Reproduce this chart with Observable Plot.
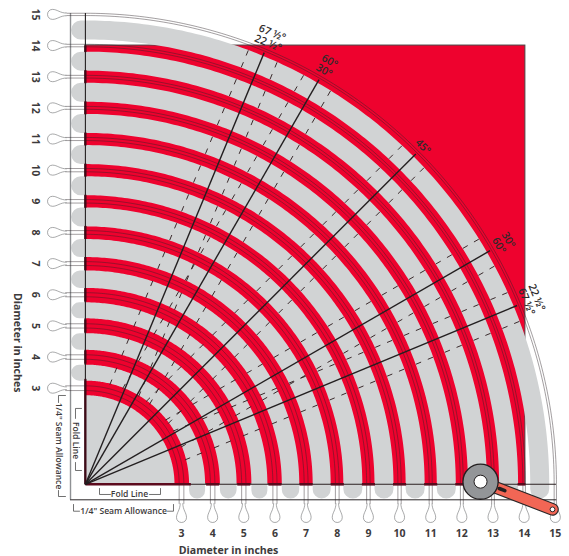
<!DOCTYPE html>
<html><head><meta charset="utf-8">
<style>html,body{margin:0;padding:0;background:#fff}svg{display:block}</style>
<script src="https://cdn.jsdelivr.net/npm/d3@7"></script>
<script src="https://cdn.jsdelivr.net/npm/@observablehq/plot@0.6"></script>
</head><body><div id="chart"></div>
<script>
// values (inches)
const diameters=[3,4,5,6,7,8,9,10,11,12,13,14,15];
const gaps=[3.5,4.5,5.5,6.5,7.5,8.5,9.5,10.5,11.5,12.5,13.5,14.5];
const angles=[22.5,30,45,60,67.5];
const innerLabels=["67 ½°","60°","45°","30°","22 ½°"];
const outerLabels=["22 ½°","30°","","60°","67 ½°"];
const centre=-0.085, innerRadius=2.86, rectEnd=14.04, rectTop=14.0;
const foldLabel="Fold Line", seamLabel='1/4" Seam Allowance', axisLabel="Diameter in inches";
const brackets=[
 [[0.368,-0.22],[0.368,-0.412],[0.72,-0.412]],
 [[1.973,-0.412],[2.326,-0.412],[2.326,-0.22]],
 [[-0.403,2.03],[-0.403,2.35],[-0.21,2.35]],
 [[-0.403,0.615],[-0.403,0.358],[-0.21,0.358]],
 [[-0.274,-0.949],[-0.467,-0.949],[-0.467,-0.733]],
 [[2.55,-0.949],[2.743,-0.949],[2.743,-0.733]],
 [[-0.949,2.541],[-0.949,2.766],[-0.724,2.766]],
 [[-0.949,-0.284],[-0.949,-0.477],[-0.724,-0.477]]
];
const cutterHub=[12.6,0], cutterEnd=[14.91,-0.89], cutterSlot=[[13.2,-0.22],[13.38,-0.29]];

// styles
const RED="#ee022e",GRAY="#d1d3d4",INK="#231f20",TXT="#3d3a3b",FONT="'Open Sans',sans-serif";
const gapPx=[16,16.7,16,17.5,18,19,19,19,19,19,19,19];
const INCH=31.15;
const u=a=>[Math.cos(a*Math.PI/180),Math.sin(a*Math.PI/180)];
const arcPts=(r,a0=0,a1=90,n=150)=>d3.range(n+1).map(i=>{const a=a0+(a1-a0)*i/n,[c,s]=u(a);return {x:centre+r*c,y:centre+r*s}});
const P=(x,y)=>({x,y});
const xy={x:"x",y:"y"};

// teardrop symbol: tip points up, origin at the circle centre
const teardrop={draw(ctx,size){const r=Math.sqrt(size/Math.PI),w=1.3,t=2.85*r;
  ctx.moveTo(-w,-t);ctx.bezierCurveTo(-w,-1.5*r,-r,-0.95*r,-r,0);
  ctx.bezierCurveTo(-r,0.6*r,-0.55*r,r,0,r);ctx.bezierCurveTo(0.55*r,r,r,0.6*r,r,0);
  ctx.bezierCurveTo(r,-0.95*r,w,-1.5*r,w,-t);}};

const marks=[];
// red block
marks.push(Plot.rect([0],{x1:()=>centre,x2:()=>rectEnd,y1:()=>centre,y2:()=>rectTop,fill:RED,stroke:"#4a4446",strokeWidth:1,inset:0}));
// inner sector
marks.push(Plot.line([P(centre,centre),...arcPts(innerRadius),P(centre,centre)],{...xy,fill:GRAY,stroke:"none"}));
// gray rings with rounded ends beyond the fold lines
gaps.forEach((g,i)=>{const r=g-centre,w=gapPx[i],reach=w/2/INCH-0.54;
  marks.push(Plot.line([P(g,reach),...arcPts(r),P(reach,g)],{...xy,stroke:GRAY,strokeWidth:w,strokeLinecap:"round",strokeLinejoin:"round"}));});
// seam allowance frame
marks.push(Plot.ruleX([-0.563],{y1:-0.59,y2:15.03,stroke:"#8f9194",strokeWidth:1.4}));
marks.push(Plot.ruleY([-0.583],{x1:-0.563,x2:15.05,stroke:"#2b2728",strokeWidth:1}));
// double lines of each diameter, running out to the teardrops
diameters.forEach(d=>{const sp=(4.7-0.2*(d-3))/2/INCH;
  [-sp,sp].forEach(o=>{const r=d-centre+o;
   marks.push(Plot.line([P(d+o,-0.70),...arcPts(r),P(-0.72,d+o)],{...xy,stroke:"#2b2226",strokeWidth:0.55,strokeOpacity:0.8}));});});
// fold lines
marks.push(Plot.ruleX([centre],{y1:centre,y2:15.03,stroke:INK,strokeWidth:1.1}));
marks.push(Plot.ruleY([centre],{x1:centre,x2:15.04,stroke:"#2b2022",strokeWidth:1.1}));
// darker strips where the red bands meet the fold lines
const strips=[[centre,3.3]].concat(diameters.slice(1,12).map(d=>[d-0.21,Math.min(d+0.21,rectEnd)]));
marks.push(Plot.link(strips,{x1:d=>d[0],x2:d=>d[1],y1:()=>centre,y2:()=>centre,stroke:"#5c0a1d",strokeWidth:2.6}));
marks.push(Plot.link(strips,{y1:d=>d[0],y2:d=>Math.min(d[1],rectTop),x1:()=>centre,x2:()=>centre,stroke:"#3f0a16",strokeWidth:2.2}));
// dashes half an inch either side of each radial
const dashes=[];
angles.forEach(a=>{const [c,s]=u(a);[-0.5,0.5].forEach(o=>gaps.forEach(g=>[-0.205,0.205].forEach(e=>{
  const R=g-centre+e,t=Math.sqrt(R*R-0.25),px=centre+t*c-o*s,py=centre+t*s+o*c,h=0.09;
  dashes.push({x1:px-h*c,y1:py-h*s,x2:px+h*c,y2:py+h*s});})));});
marks.push(Plot.link(dashes,{x1:"x1",y1:"y1",x2:"x2",y2:"y2",stroke:"#3a2a2c",strokeWidth:1}));
// radials
marks.push(Plot.link(angles,{x1:()=>centre,y1:()=>centre,x2:a=>centre+15*u(a)[0],y2:a=>centre+15*u(a)[1],stroke:INK,strokeWidth:1.4}));
// teardrops
marks.push(Plot.dot(diameters,{x:d=>d,y:()=>-1.15,r:5,symbol:teardrop,fill:"#fff",stroke:"#6d6e71",strokeWidth:0.6}));
marks.push(Plot.dot(diameters,{y:d=>d,x:()=>-1.14,r:5,symbol:teardrop,rotate:90,fill:"#fff",stroke:"#6d6e71",strokeWidth:0.6}));
// tick labels
const tick={fontFamily:FONT,fontWeight:700,fontSize:10.5,fill:TXT};
marks.push(Plot.text(diameters,{x:d=>d,y:()=>-1.66,text:d=>String(d),...tick}));
marks.push(Plot.text(diameters,{y:d=>d,x:()=>-1.687,text:d=>String(d),rotate:90,...tick}));
// axis titles
const title={fontFamily:FONT,fontWeight:700,fontSize:10.6,fill:TXT};
marks.push(Plot.text([axisLabel],{x:()=>4.51,y:()=>-2.21,text:d=>d,...title}));
marks.push(Plot.text([axisLabel],{x:()=>-2.27,y:()=>4.46,text:d=>d,rotate:90,...title}));
// angle labels
const angleStyle={fontFamily:FONT,fontWeight:600,fontSize:10.6,fill:"#2e2a2b"};
const lab=(arr,R)=>Plot.text(angles.map((a,i)=>({a,t:arr[i]})).filter(d=>d.t),{
  x:d=>centre+R*u(d.a)[0],y:d=>centre+R*u(d.a)[1],text:"t",rotate:d=>90-d.a,...angleStyle});
marks.push(lab(innerLabels,15.33),lab(outerLabels,15.68));
// annotations
const ann={fontFamily:FONT,fontWeight:600,fontSize:8.6,fill:TXT};
marks.push(Plot.text([foldLabel],{x:()=>1.33,y:()=>-0.412,text:d=>d,...ann}));
marks.push(Plot.text([foldLabel],{x:()=>-0.403,y:()=>1.32,text:d=>d,rotate:90,...ann}));
marks.push(Plot.text([seamLabel],{x:()=>1.14,y:()=>-0.949,text:d=>d,...ann}));
marks.push(Plot.text([seamLabel],{x:()=>-0.949,y:()=>1.144,text:d=>d,rotate:90,...ann}));
brackets.forEach(b=>marks.push(Plot.line(b,{x:"0",y:"1",stroke:"#333",strokeWidth:0.7})));
// rotary cutter
const handle=[P(...cutterHub),P(...cutterEnd)];
marks.push(Plot.line(handle,{...xy,stroke:"#2b2728",strokeWidth:12.6,strokeLinecap:"round"}));
marks.push(Plot.line(handle,{...xy,stroke:"#f26655",strokeWidth:10.4,strokeLinecap:"round"}));
marks.push(Plot.line(cutterSlot.map(p=>P(...p)),{...xy,stroke:"#231f20",strokeWidth:3.6,strokeLinecap:"round"}));
marks.push(Plot.dot([cutterEnd],{x:"0",y:"1",r:2.4,fill:"#fff",stroke:"#2b2728",strokeWidth:1}));
marks.push(Plot.dot([cutterHub],{x:"0",y:"1",r:17.6,fill:"#939598",stroke:"#231f20",strokeWidth:1.3}));
marks.push(Plot.dot([cutterHub],{x:"0",y:"1",r:6.5,fill:"#fff",stroke:"#231f20",strokeWidth:1}));

const chart=Plot.plot({width:569,height:556,margin:0,
  style:{background:"#fff",fontFamily:FONT},
  x:{domain:[-87.55/INCH,(569-87.55)/INCH],range:[0,569],axis:null},
  y:{domain:[(481.15-556)/INCH,481.15/INCH],range:[556,0],axis:null},
  marks});
document.getElementById("chart").appendChild(chart);
</script></body></html>
